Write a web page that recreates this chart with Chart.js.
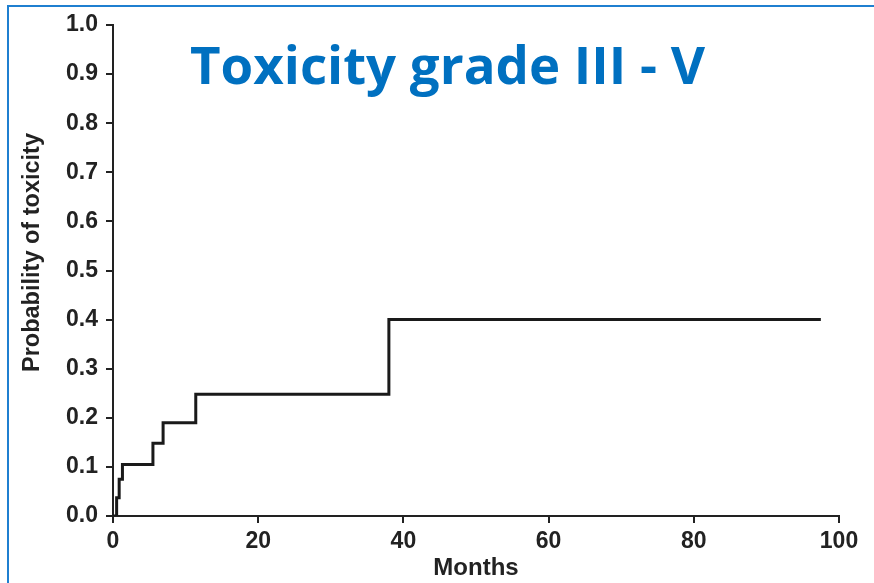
<!DOCTYPE html>
<html>
<head>
<meta charset="utf-8">
<script src="https://cdn.jsdelivr.net/npm/chart.js@4/dist/chart.umd.min.js"></script>
<style>
  html, body { margin: 0; padding: 0; background: #fff; }
  #wrap { width: 874px; height: 583px; position: relative; }
</style>
</head>
<body>
<div id="wrap"><canvas id="c" width="874" height="583"></canvas></div>
<script>
// data (months, cumulative probability)
var months = [0, 0.5, 0.85, 1.3, 5.5, 6.9, 11.4, 38.0, 97.5];
var probability = [0, 0.037, 0.075, 0.105, 0.148, 0.19, 0.248, 0.40, 0.40];

var titleText = "Toxicity grade III - V";
var xLabel = "Months";
var yLabel = "Probability of toxicity";
var xTicks = [0, 20, 40, 60, 80, 100];
var yTicks = [0, 0.1, 0.2, 0.3, 0.4, 0.5, 0.6, 0.7, 0.8, 0.9, 1.0];

var ink = '#222222';
var fam = '"Liberation Sans", Arial, sans-serif';
var tickFont = { family: fam, weight: 'bold', size: 23 };

var points = [];
for (var i = 0; i < months.length; i++) {
    points.push({ x: months[i], y: probability[i] });
}

// blue frame, big title and y label drawn on the canvas
var decor = {
    id: 'decor',
    beforeDraw: function(chart) {
        var ctx = chart.ctx;
        ctx.save();
        ctx.strokeStyle = '#1f7fd0';
        ctx.lineWidth = 2;
        ctx.strokeRect(8, 6, 900, 620);
        ctx.restore();
    },
    afterDraw: function(chart) {
        var ctx = chart.ctx;
        ctx.save();
        ctx.fillStyle = '#0070C0';
        ctx.font = 'bold 56px "Open Sans", sans-serif';
        ctx.textBaseline = 'alphabetic';
        ctx.textAlign = 'left';
        var w = ctx.measureText(titleText).width;
        ctx.font = 'bold ' + (56 * 515 / w).toFixed(1) + 'px "Open Sans", sans-serif';
        ctx.fillText(titleText, 190, 84);
        ctx.restore();

        ctx.save();
        ctx.translate(33, 252.5);
        ctx.rotate(-Math.PI / 2);
        ctx.fillStyle = ink;
        ctx.font = 'bold 23.5px ' + fam;
        ctx.textAlign = 'center';
        ctx.textBaseline = 'middle';
        ctx.fillText(yLabel, 0, 0);
        ctx.restore();
    }
};

new Chart(document.getElementById('c'), {
    type: 'scatter',
    data: {
        datasets: [{
            data: points,
            showLine: true,
            stepped: true,
            borderColor: '#1a1a1a',
            borderWidth: 3,
            pointRadius: 0,
            fill: false,
            borderJoinStyle: 'miter'
        }]
    },
    options: {
        responsive: false,
        animation: false,
        layout: { padding: { left: 0, top: 25, right: 35, bottom: 0 } },
        plugins: { legend: { display: false }, tooltip: { enabled: false } },
        scales: {
            x: {
                type: 'linear',
                min: 0, max: 100,
                afterBuildTicks: function(s) { s.ticks = xTicks.map(function(v) { return { value: v }; }); },
                afterFit: function(s) { s.height = 583 - 516; },
                ticks: { color: ink, font: tickFont, padding: 5, maxRotation: 0 },
                grid: { display: true, drawOnChartArea: false, drawTicks: true, tickLength: 7, color: ink, lineWidth: 2 },
                border: { display: true, color: ink, width: 2 },
                title: { display: true, text: xLabel, color: ink, font: { family: fam, weight: 'bold', size: 24 }, padding: { top: 0, bottom: 0 } }
            },
            y: {
                type: 'linear',
                min: 0, max: 1,
                afterBuildTicks: function(s) { s.ticks = yTicks.map(function(v) { return { value: v }; }); },
                afterFit: function(s) { s.width = 113; },
                ticks: { color: ink, font: tickFont, padding: 8, callback: function(v) { return Number(v).toFixed(1); } },
                grid: { display: true, drawOnChartArea: false, drawTicks: true, tickLength: 7, color: ink, lineWidth: 2 },
                border: { display: true, color: ink, width: 2 }
            }
        }
    },
    plugins: [decor]
});
</script>
</body>
</html>
